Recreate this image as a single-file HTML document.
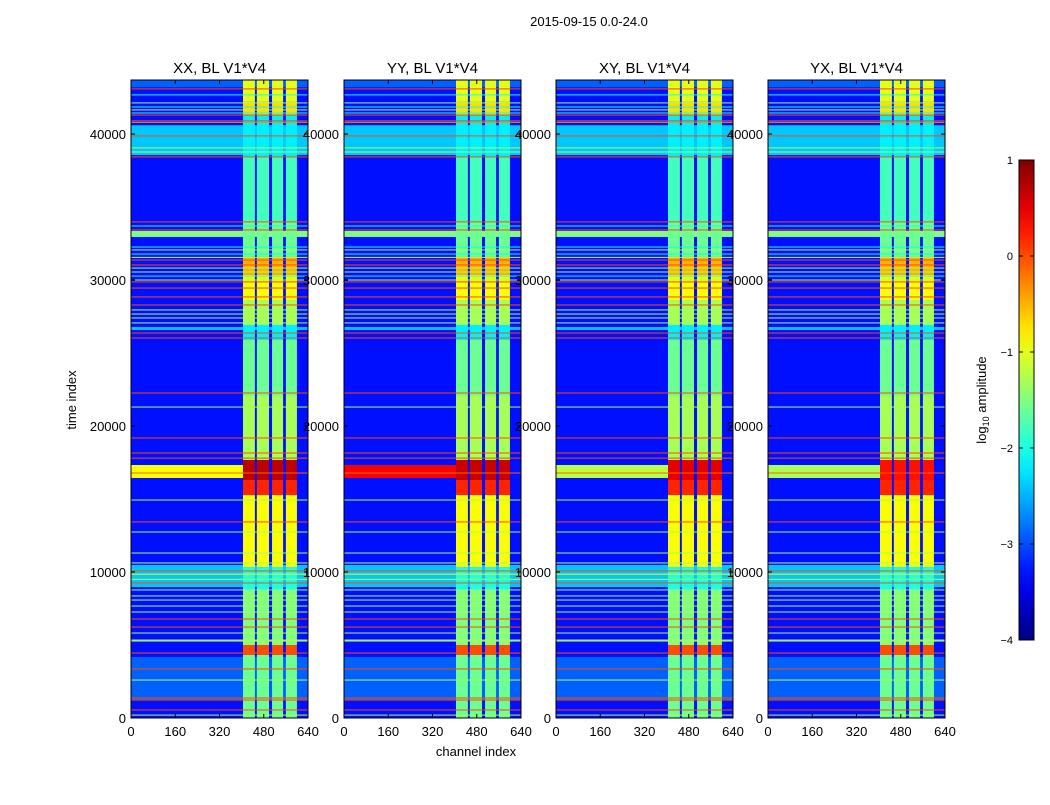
<!DOCTYPE html>
<html><head><meta charset="utf-8">
<style>
body{margin:0;background:#fff;font-family:"Liberation Sans",sans-serif;}
svg text{font-family:"Liberation Sans",sans-serif;fill:#000;}
</style></head>
<body>
<svg id="chart" width="1050" height="800" xmlns="http://www.w3.org/2000/svg">
<text x="589" y="26" font-size="13" text-anchor="middle">2015-09-15 0.0-24.0</text>
<text x="476" y="756" font-size="13" text-anchor="middle">channel index</text>
<text x="76" y="400" font-size="13" text-anchor="middle" transform="rotate(-90 76 400)">time index</text>
<g id="panels"></g>
<g id="cbar"></g>
</svg>
<script>
const panelTitles = ["XX, BL V1*V4","YY, BL V1*V4","XY, BL V1*V4","YX, BL V1*V4"];
const xTicks = [0,160,320,480,640];
const yTicks = [0,10000,20000,30000,40000];
const cbarTicks = [1,0,-1,-2,-3,-4];
const cbarTickLabels = ["1","0","\u22121","\u22122","\u22123","\u22124"];
const backgroundLevel = -3.3;
// broad bands across all channels: [t0, t1, level]
const bands = [[38560,40600,-2.4],[32950,33360,-1.5],[26580,26780,-2.4],[8970,10480,-2.4],[1230,4180,-2.9],[43200,43700,-2.9]];
// strip channel ranges
const stripChannels = [[405,448],[455,499],[510,550],[560,600]];
// strip levels vs time: [t0, t1, level]
const stripBands = [[42200,43700,-1.0],[41300,42200,-0.7],[38430,41300,-2.2],[33980,38430,-1.8],[32400,33980,-1.6],[31580,32400,-1.6],[30350,31580,-0.5],[28630,30350,-0.9],[26920,28630,-1.3],[25890,26920,-2.2],[22120,25890,-1.6],[17670,22120,-1.3],[16300,17670,0.7],[15270,16300,0.2],[10340,15270,-0.9],[8770,10340,-2.0],[5000,8770,-1.5],[4320,5000,0.0],[0,4320,-1.6]];
// thin horizontal lines: [time, level]
const lines = [[43090,0.0],[42680,-2],[42130,-1.3],[41850,-2],[41650,-1.3],[41440,-2],[41300,0],[40900,0],[40800,-0.3],[39870,0],[39050,-1.3],[38770,-1.3],[38430,0],[33980,0],[33700,-2],[33430,0],[32260,-2],[32060,-1.3],[31780,-2],[31550,-1.3],[31370,0],[31030,0],[30820,-1.3],[30550,-1.3],[30270,-2],[30000,-1.3],[29870,0],[29450,0],[28840,0],[28290,0],[27950,-1.3],[27670,-1.3],[27400,-1.3],[27060,-1.3],[26370,0],[26030,0],[22260,0],[21300,-1.3],[19180,0],[18150,0],[17800,0],[16780,-0.1],[14930,-1.3],[13430,0],[12740,-1.3],[11300,-1.3],[10620,-1.3],[10070,0],[9850,-0.8],[9500,-1.3],[9250,0],[8770,-1.3],[8360,-1.3],[8080,-1.3],[7670,-1.3],[7260,-1.3],[6780,0],[6230,0],[5820,-1.3],[5340,-1.3],[5270,-1.3],[4450,0],[3360,0],[2600,-1.3],[1370,0],[1230,0],[550,0],[200,-1.3]];
// per-panel level of the wide band near t=16440-17330
const panelWideBand = [-0.9,0.4,-1.2,-1.3];
const panelStripPeak = [0.7,0.65,0.5,0.3];
const wideBand = [16440,17330];

const NS="http://www.w3.org/2000/svg";
const px0=[131,344,556,768], pw=177, yTop=80, yBot=718, tMax=43700;
function xs(p,ch){return px0[p]+ch*pw/640;}
function ys(t){return yBot-(t/tMax)*(yBot-yTop);}
function jet(v){let t=Math.max(0,Math.min(1,(v+4)/5));
 let r,g,b;
 r=Math.max(0,Math.min(1,Math.min(4*t-1.5,-4*t+4.5)));
 g=Math.max(0,Math.min(1,Math.min(4*t-0.5,-4*t+3.5)));
 b=Math.max(0,Math.min(1,Math.min(4*t+0.5,-4*t+2.5)));
 return `rgb(${Math.round(r*255)},${Math.round(g*255)},${Math.round(b*255)})`;}
function mk(tag,attrs,parent){const e=document.createElementNS(NS,tag);for(const k in attrs)e.setAttribute(k,attrs[k]);parent.appendChild(e);return e;}
const root=document.getElementById('panels');
for(let p=0;p<4;p++){
 const g=mk('g',{},root);
 
 
 const bg=mk('rect',{x:px0[p],y:yTop,width:pw,height:yBot-yTop,fill:jet(backgroundLevel)},g);
 
 
 bands.forEach(b=>{const r=mk('rect',{x:px0[p],y:ys(b[1]),width:pw,height:Math.max(1,ys(b[0])-ys(b[1])),fill:jet(b[2])},g);
  
  });
 {const r=mk('rect',{x:px0[p],y:ys(wideBand[1]),width:xs(p,405)-px0[p],height:ys(wideBand[0])-ys(wideBand[1]),fill:jet(panelWideBand[p])},g);
  
  }
 stripBands.forEach(sb=>{let lv=sb[2]; if(sb[0]==16300) lv=panelStripPeak[p];
  stripChannels.forEach(sc=>{const r=mk('rect',{x:xs(p,sc[0]),y:ys(sb[1]),width:xs(p,sc[1])-xs(p,sc[0]),height:ys(sb[0])-ys(sb[1]),fill:jet(lv)},g);
   
   });});
 lines.forEach(l=>{const r=mk('rect',{x:px0[p],y:ys(l[0])-0.5,width:pw,height:1,fill:jet(l[1])},g);
  
  });
 const fr=mk('rect',{x:px0[p],y:yTop,width:pw,height:yBot-yTop,fill:'none',stroke:'#000','stroke-width':1},g);
 
 
 const tt=mk('text',{x:px0[p]+pw/2,y:73,'font-size':15,'text-anchor':'middle'},g);tt.textContent=panelTitles[p];
 
 
 xTicks.forEach(v=>{const x=xs(p,v);
  mk('line',{x1:x,x2:x,y1:yBot,y2:yBot-4,stroke:'#000'},g);mk('line',{x1:x,x2:x,y1:yTop,y2:yTop+4,stroke:'#000'},g);
  const t=mk('text',{x:x,y:736,'font-size':13,'text-anchor':'middle'},g);t.textContent=v;
  
  });
 yTicks.forEach(v=>{const y=ys(v);
  mk('line',{x1:px0[p],x2:px0[p]+4,y1:y,y2:y,stroke:'#000'},g);mk('line',{x1:px0[p]+pw,x2:px0[p]+pw-4,y1:y,y2:y,stroke:'#000'},g);
  const t=mk('text',{x:px0[p]-5,y:y+5,'font-size':13,'text-anchor':'end'},g);t.textContent=v;
  
  });
}
// colorbar
const cb=document.getElementById('cbar');


const cx=1019,cw=15,cTop=160,cBot=640;
const defs=mk('defs',{},cb);const lg=mk('linearGradient',{id:'jetg',x1:0,y1:1,x2:0,y2:0},defs);
for(let i=0;i<=20;i++){mk('stop',{offset:i/20,'stop-color':jet(-4+5*i/20)},lg);}
mk('rect',{x:cx,y:cTop,width:cw,height:cBot-cTop,fill:'url(#jetg)',stroke:'#000'},cb);
cbarTicks.forEach((v,i)=>{const y=cBot-(v+4)/5*(cBot-cTop);
 mk('line',{x1:cx,x2:cx+4,y1:y,y2:y,stroke:'#000'},cb);mk('line',{x1:cx+cw,x2:cx+cw-4,y1:y,y2:y,stroke:'#000'},cb);
 const t=mk('text',{x:1013,y:y+4,'font-size':11,'text-anchor':'end'},cb);t.textContent=cbarTickLabels[i];
 
 });
const cl=mk('text',{x:986,y:400,'font-size':13,'text-anchor':'middle',transform:'rotate(-90 986 400)'},cb);
cl.innerHTML='log<tspan font-size="9" dy="3">10</tspan><tspan dy="-3"> amplitude</tspan>';


</script>
</body></html>
